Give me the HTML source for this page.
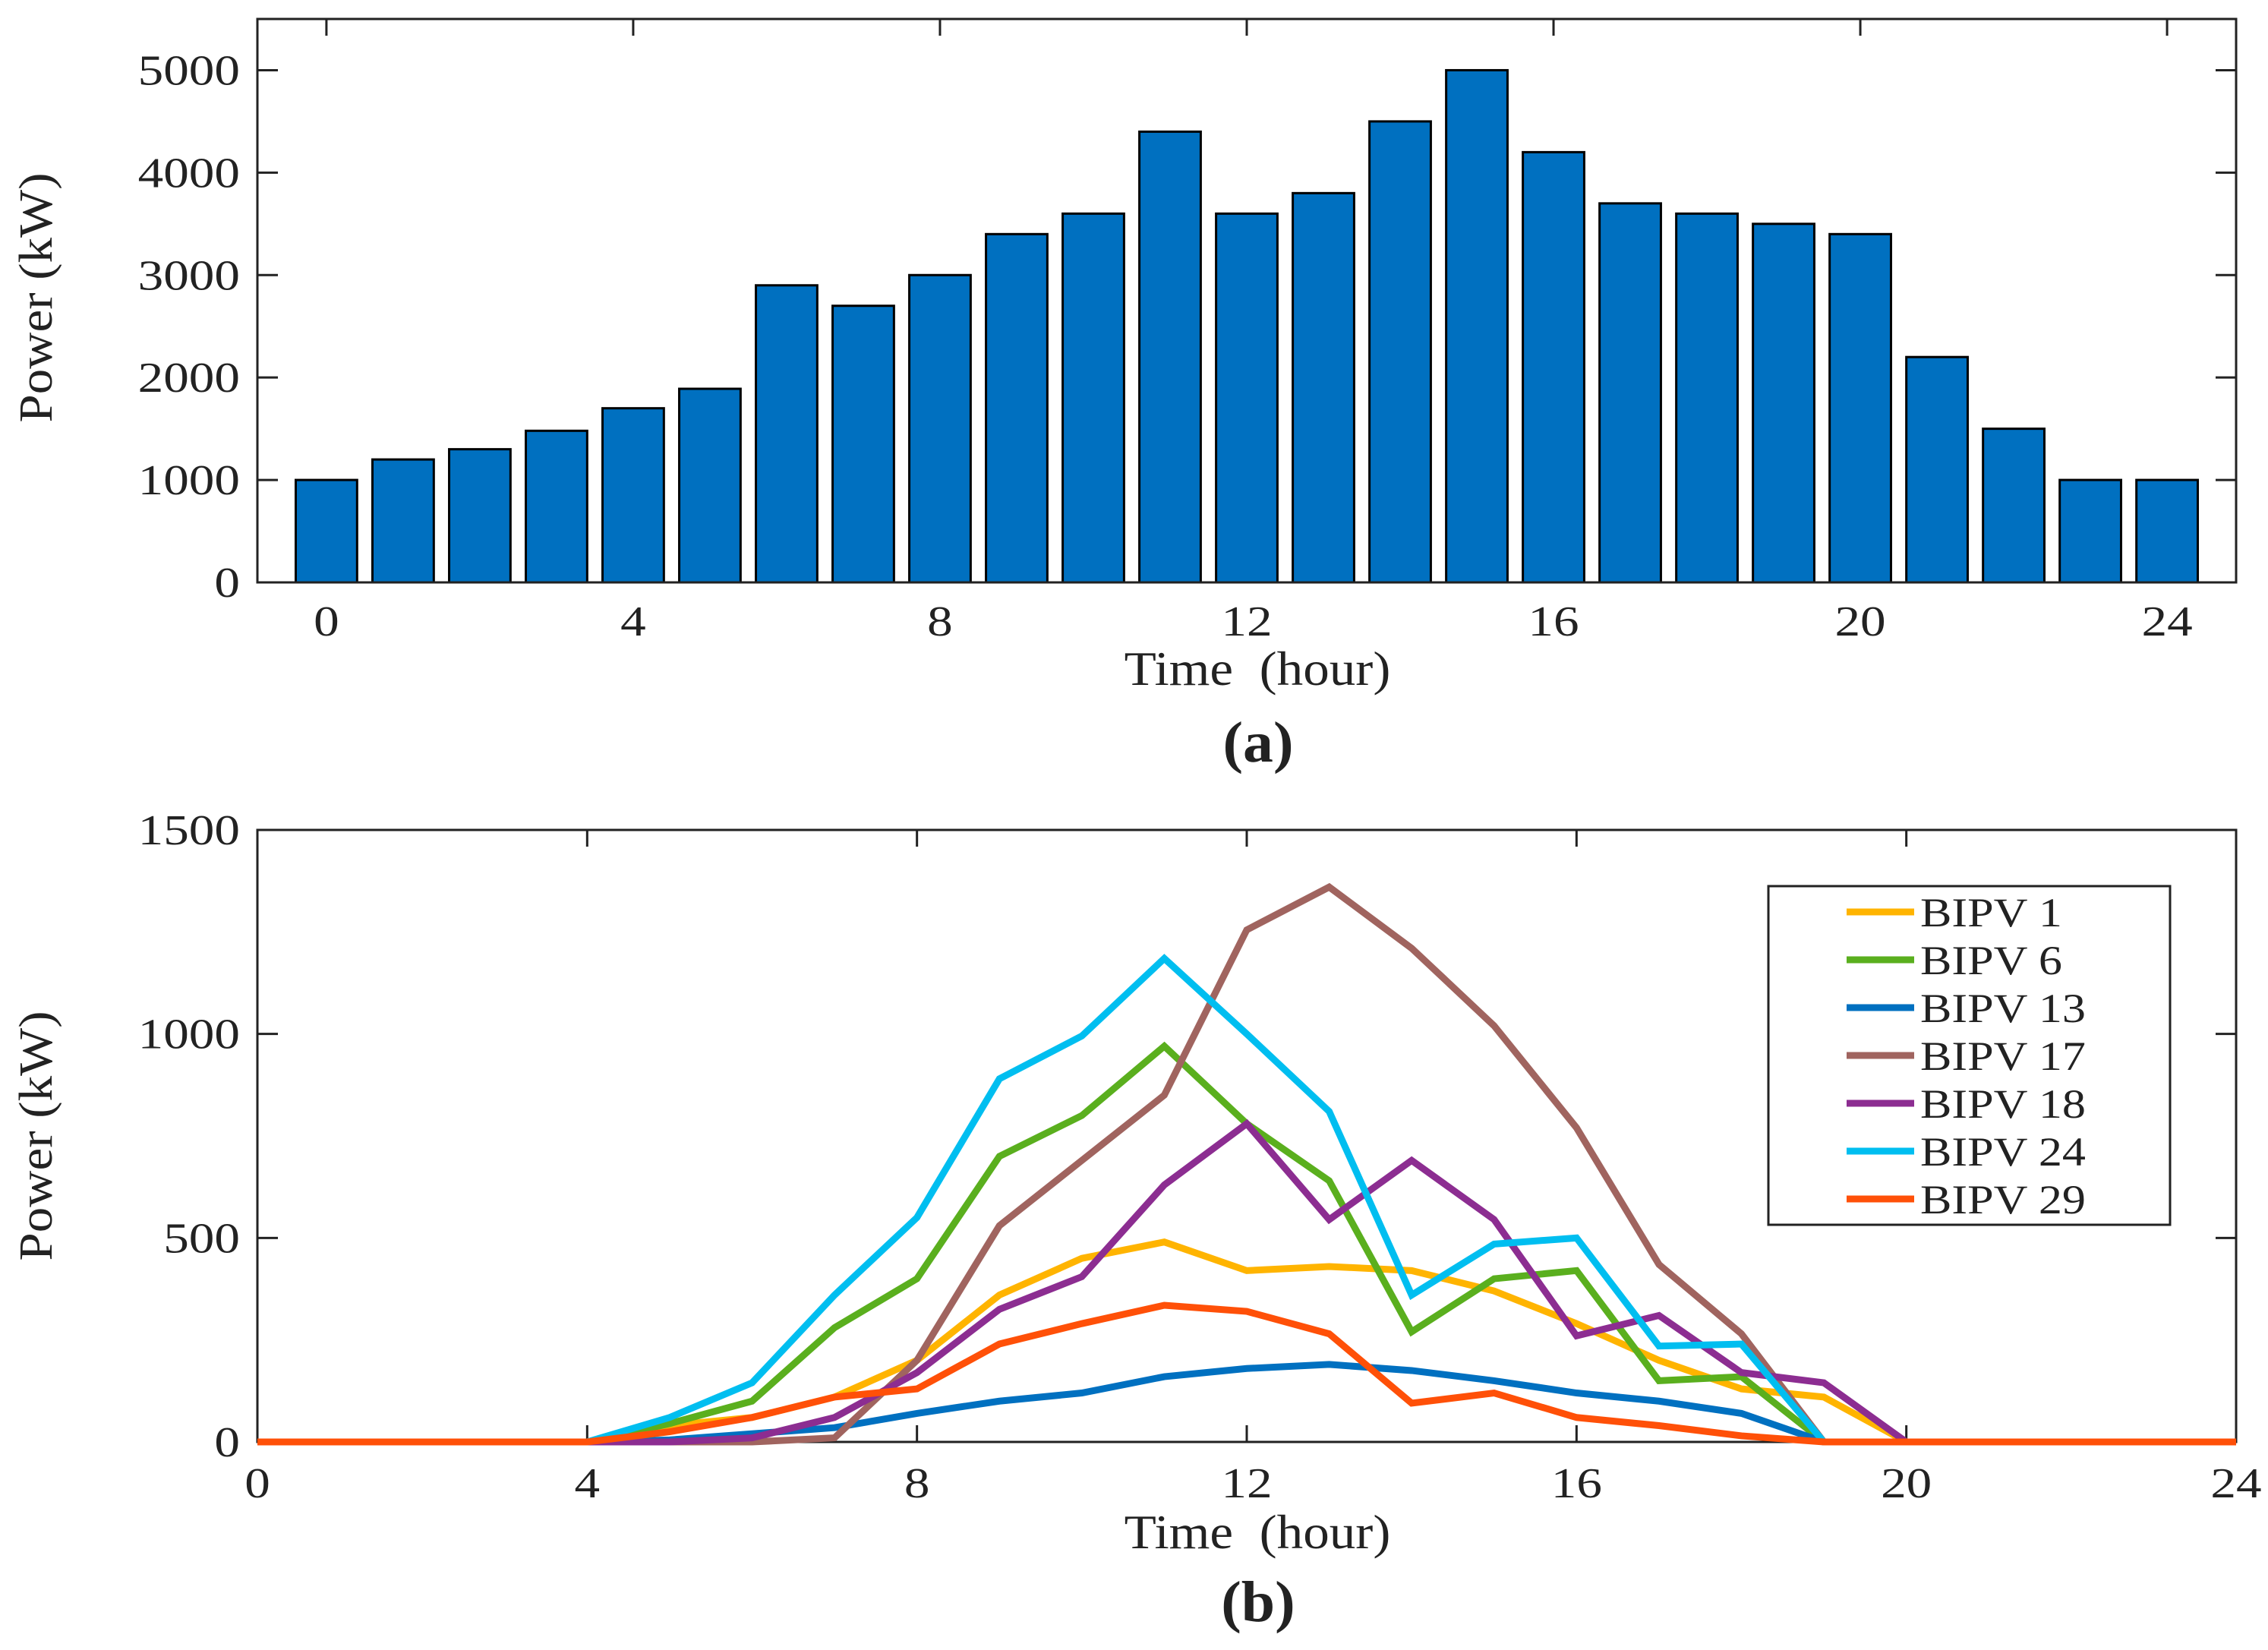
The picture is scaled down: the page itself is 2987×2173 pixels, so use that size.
<!DOCTYPE html>
<html><head><meta charset="utf-8"><style>
html,body{margin:0;padding:0;background:#fff;}
svg{display:block;}
text{font-family:"Liberation Serif",serif;fill:#222;}
</style></head><body>
<svg id="chart" width="2987" height="2173" viewBox="0 0 2987 2173" xmlns="http://www.w3.org/2000/svg">
<g id="topChart"></g>
<g id="botChart"></g>
</svg>
<script>
const hours = [0,1,2,3,4,5,6,7,8,9,10,11,12,13,14,15,16,17,18,19,20,21,22,23,24];
const loadValues = [1000,1200,1300,1480,1700,1890,2900,2700,3000,3400,3600,4400,3600,3800,4500,5000,4200,3700,3600,3500,3400,2200,1500,1000,1000];
const topYTicks = [0,1000,2000,3000,4000,5000];
const topXTicks = [0,4,8,12,16,20,24];
const botYTicks = [0,500,1000,1500];
const botXTicks = [0,4,8,12,16,20,24];
const seriesNames = ["BIPV 1","BIPV 6","BIPV 13","BIPV 17","BIPV 18","BIPV 24","BIPV 29"];
const bipv1  = [0,0,0,0,0,40,60,110,200,360,450,490,420,430,420,370,290,200,130,110,0,0,0,0,0];
const bipv6  = [0,0,0,0,0,45,100,280,400,700,800,970,780,640,270,400,420,150,160,0,0,0,0,0,0];
const bipv13 = [0,0,0,0,0,5,20,35,70,100,120,160,180,190,175,150,120,100,70,0,0,0,0,0,0];
const bipv17 = [0,0,0,0,0,0,0,10,200,530,690,850,1255,1360,1210,1020,770,435,265,0,0,0,0,0,0];
const bipv18 = [0,0,0,0,0,0,10,60,170,325,405,630,780,545,690,545,260,310,170,145,0,0,0,0,0];
const bipv24 = [0,0,0,0,0,60,145,360,550,890,995,1185,1000,810,360,485,500,235,240,0,0,0,0,0,0];
const bipv29 = [0,0,0,0,0,25,60,110,130,240,290,335,320,265,95,120,60,40,15,0,0,0,0,0,0];
const seriesColors = ["#FFB400","#5AAF1E","#0070C0","#A0645F","#8C2D91","#00BEF0","#FF5008"];

const NS="http://www.w3.org/2000/svg";
function mk(parent,tag,attrs){const e=document.createElementNS(NS,tag);for(const k in attrs)e.setAttribute(k,attrs[k]);parent.appendChild(e);return e;}
function txt(parent,str,x,y,size,anchor,sx,bold){const t=mk(parent,'text',{x:0,y:0,'font-size':size,'text-anchor':anchor,transform:`translate(${x},${y}) scale(${sx},1)`});if(bold)t.setAttribute('font-weight','bold');t.textContent=str;return t;}

// ---- top chart ----
const topG=document.getElementById('topChart');
const T={l:339,r:2945,t:25,b:767,x0:-0.9,x1:24.9,y1:5500};
const tx=v=>T.l+(v-T.x0)/(T.x1-T.x0)*(T.r-T.l);
const ty=v=>T.b-v/T.y1*(T.b-T.t);
const bw=0.8*(tx(1)-tx(0));
hours.forEach((h,i)=>{
  const b=mk(topG,'rect',{x:tx(h)-bw/2,y:ty(loadValues[i]),width:bw,height:ty(0)-ty(loadValues[i]),fill:'#0070C0',stroke:'#000','stroke-width':3});
  
  
});
mk(topG,'rect',{x:T.l,y:T.t,width:T.r-T.l,height:T.b-T.t,fill:'none',stroke:'#222','stroke-width':3});
topYTicks.forEach(v=>{
  mk(topG,'line',{x1:T.l,x2:T.l+27,y1:ty(v),y2:ty(v),stroke:'#222','stroke-width':3});
  mk(topG,'line',{x1:T.r,x2:T.r-27,y1:ty(v),y2:ty(v),stroke:'#222','stroke-width':3});
  const t=txt(topG,String(v),316,ty(v)+19,56,'end',1.2);
  
  
});
topXTicks.forEach(v=>{
  mk(topG,'line',{x1:tx(v),x2:tx(v),y1:T.t,y2:T.t+22,stroke:'#222','stroke-width':3});
  const t=txt(topG,String(v),tx(v),837,56,'middle',1.2);
  
  
});
let a=txt(topG,'Time\u00A0\u00A0(hour)',1656,902,64,'middle',1.08);


a=mk(topG,'text',{x:0,y:0,'font-size':62,'text-anchor':'middle',transform:'translate(68,392) rotate(-90) scale(1.08,1)'});a.textContent='Power (kW)';


a=txt(topG,'(a)',1657,1003,76,'middle',1.05,true);



// ---- bottom chart ----
const botG=document.getElementById('botChart');
const B={l:339,r:2945,t:1093,b:1899,x0:0,x1:24,y1:1500};
const bx=v=>B.l+(v-B.x0)/(B.x1-B.x0)*(B.r-B.l);
const by=v=>B.b-v/B.y1*(B.b-B.t);
mk(botG,'rect',{x:B.l,y:B.t,width:B.r-B.l,height:B.b-B.t,fill:'none',stroke:'#222','stroke-width':3});
botYTicks.forEach(v=>{
  mk(botG,'line',{x1:B.l,x2:B.l+27,y1:by(v),y2:by(v),stroke:'#222','stroke-width':3});
  mk(botG,'line',{x1:B.r,x2:B.r-27,y1:by(v),y2:by(v),stroke:'#222','stroke-width':3});
  const t=txt(botG,String(v),316,by(v)+19,56,'end',1.2);
  
  
});
botXTicks.forEach(v=>{
  mk(botG,'line',{x1:bx(v),x2:bx(v),y1:B.t,y2:B.t+22,stroke:'#222','stroke-width':3});
  mk(botG,'line',{x1:bx(v),x2:bx(v),y1:B.b,y2:B.b-22,stroke:'#222','stroke-width':3});
  const t=txt(botG,String(v),bx(v),1972,56,'middle',1.2);
  
  
});
const allSeries=[bipv1,bipv6,bipv13,bipv17,bipv18,bipv24,bipv29];
allSeries.forEach((s,si)=>{
  const pts=s.map((v,i)=>bx(hours[i])+','+by(v)).join(' ');
  const p=mk(botG,'polyline',{points:pts,fill:'none',stroke:seriesColors[si],'stroke-width':9,'stroke-linejoin':'miter'});
  
  
});
const lg=mk(botG,'g',{});


mk(lg,'rect',{x:2329,y:1167,width:529,height:446,fill:'#fff',stroke:'#222','stroke-width':3});
seriesNames.forEach((n,i)=>{
  const y=1201+i*63;
  mk(lg,'line',{x1:2432,x2:2521,y1:y,y2:y,stroke:seriesColors[i],'stroke-width':9});
  const t=txt(lg,n,2529,y+19,54,'start',1.15);
  
  
});
a=txt(botG,'Time\u00A0\u00A0(hour)',1656,2039,64,'middle',1.08);


a=mk(botG,'text',{x:0,y:0,'font-size':62,'text-anchor':'middle',transform:'translate(68,1496) rotate(-90) scale(1.08,1)'});a.textContent='Power (kW)';


a=txt(botG,'(b)',1657,2135,76,'middle',1.05,true);


</script>
</body></html>
